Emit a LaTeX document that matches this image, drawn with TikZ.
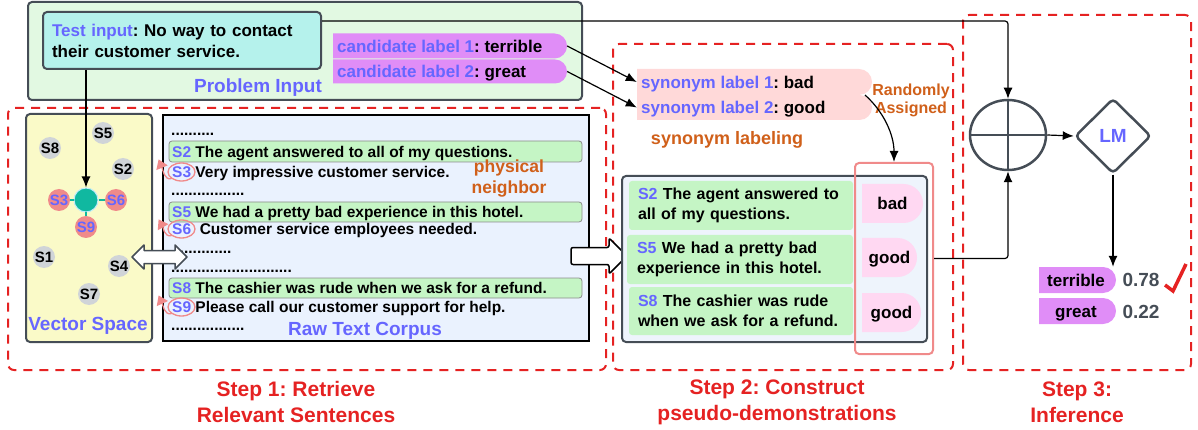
\documentclass[tikz,border=0pt]{standalone}
\usepackage{fontspec}
\setmainfont{Liberation Sans}
\usetikzlibrary{shapes.misc,shapes.arrows,shapes.geometric,arrows.meta,calc}
\definecolor{blueT}{HTML}{6666FF}
\definecolor{orT}{HTML}{D0601A}
\definecolor{redD}{HTML}{E52222}
\definecolor{grayD}{HTML}{454D56}
\definecolor{piFill}{HTML}{E2F9E2}
\definecolor{tiFill}{HTML}{B5F2EC}
\definecolor{vio}{HTML}{E08DF7}
\definecolor{synFill}{HTML}{FFD9D9}
\definecolor{grn}{HTML}{C5F5C5}
\definecolor{pkFill}{HTML}{FFD8F2}
\definecolor{salm}{HTML}{F08A8A}
\definecolor{vsFill}{HTML}{FAFAC8}
\definecolor{cpFill}{HTML}{EAF2FE}
\definecolor{dmFill}{HTML}{EEF4FC}
\definecolor{gcol}{HTML}{D0D4D8}
\definecolor{tealc}{HTML}{10B8A0}
\newcommand\rn[7]{\node[#2, minimum width={(#5-#3)*1pt}, minimum height={(#6-#4)*1pt}] (#1) at ({(#3+#5)/2},{(#4+#6)/2}) {#7};}
\frenchspacing
\begin{document}
\begin{tikzpicture}[x=1pt,y=-1pt,
  stepbox/.style={draw=redD, line width=2pt, dash pattern=on 9pt off 7pt, rounded corners=6pt, inner sep=0pt},
  box/.style={draw=grayD, line width=2pt, rounded corners=4pt, inner sep=0pt},
  pill/.style={rounded rectangle, rounded rectangle west arc=none, inner sep=0pt, draw=none},
  gbar/.style={fill=grn, draw=black!45, line width=0.8pt, rounded corners=3pt, inner sep=0pt},
  gtxt/.style={fill=grn, rounded corners=3pt, text width=206pt, align=left, inner sep=0pt, font=\bfseries\fontsize{16}{19.5}\selectfont},
  t17/.style={font=\bfseries\fontsize{17}{21}\selectfont, inner sep=0pt, text height=12.2pt, text depth=0pt},
  t18/.style={font=\bfseries\fontsize{18}{21}\selectfont, inner sep=0pt, text height=12.9pt, text depth=0pt},
  t19/.style={font=\bfseries\fontsize{19}{22}\selectfont, inner sep=0pt, text height=13.6pt, text depth=0pt},
  ct/.style={font=\bfseries\fontsize{15.5}{18}\selectfont, inner sep=0pt, anchor=west, text height=11.1pt, text depth=0pt},
  dots/.style={font=\bfseries\fontsize{15.5}{18}\selectfont, inner sep=0pt, anchor=base west},
  stl/.style={font=\bfseries\fontsize{21}{26}\selectfont, text=redD, align=center, inner sep=0pt},
  gcirc/.style={circle, fill=gcol, minimum size=22pt, inner sep=0pt, font=\bfseries\fontsize{15}{18}\selectfont},
  scirc/.style={circle, fill=salm, minimum size=22pt, inner sep=0pt, text=blueT, font=\bfseries\fontsize{15}{18}\selectfont},
  arr/.style={-{Latex[length=11pt,width=9pt]}, line width=1.2pt, draw=black},
  pkarr/.style={salm, line width=1.3pt, -{Triangle[length=9pt,width=12pt]}},
  ell/.style={ellipse, draw=salm, line width=1.3pt, minimum width=27pt, minimum height=18pt, inner sep=0pt},
  blockarrow/.style={fill=white, line width=1.5pt, line join=round}
]
\useasboundingbox (0,0) rectangle (1198,430);
% step frames
\rn{st1}{stepbox}{8}{108}{606}{370}{}
\rn{st2}{stepbox}{613}{44}{953}{370}{}
\rn{st3}{stepbox}{963}{15}{1191}{370}{}
\node[stl] (l1) at (296,402) {Step 1: Retrieve\\Relevant Sentences};
\node[stl] (l2) at (777,402) {Step 2: Construct\\pseudo-demonstrations};
\node[stl] (l3) at (1077,402) {Step 3:\\Inference};
% problem input
\rn{pib}{box, fill=piFill}{28}{2}{582}{100}{}
\rn{ti}{box, fill=tiFill, align=left, text width=260pt, font=\bfseries\fontsize{17}{21}\selectfont}{43}{12}{321}{69}{\textcolor{blueT}{Test input}: No way to contact\\their customer service.}
\node[t19, text=blueT] (pil) at (258,86) {Problem Input};
\node[pill, fill=vio, minimum width=234pt, minimum height=25pt] (cp1) at (450,46) {};
\node[pill, fill=vio, minimum width=234pt, minimum height=24pt] (cp2) at (450,71.5) {};
\node[t17, anchor=west] (cpt1) at (337,46) {\textcolor{blueT}{candidate label 1}: terrible};
\node[t17, anchor=west] (cpt2) at (337,71.5) {\textcolor{blueT}{candidate label 2}: great};
% vector space
\rn{vs}{box, fill=vsFill}{26}{114}{152}{342}{}
\node[t19, text=blueT] (vsl) at (88,324) {Vector Space};
\node[gcirc] (v5) at (103,133) {S5};
\node[gcirc] (v8) at (50,148) {S8};
\node[gcirc] (v2) at (123,169) {S2};
\node[gcirc] (v1) at (44,257) {S1};
\node[gcirc] (v4) at (119,266) {S4};
\node[gcirc] (v7) at (89,294) {S7};
\node[circle, fill=tealc, draw=cyan!25, line width=1pt, minimum size=24pt, inner sep=0pt] (ctr) at (86,200) {};
\node[scirc] (v3) at (59,200) {S3};
\node[scirc] (v6) at (116,200) {S6};
\node[scirc] (v9) at (86,227) {S9};
\draw[tealc, line width=1.5pt] (ctr) -- (v3) (ctr) -- (v6) (ctr) -- (v9);
\draw[arr] (ctr |- ti.south) -- (ctr.north);
% corpus
\rn{cb}{draw=black, line width=1.5pt, fill=cpFill, inner sep=0pt}{163}{115}{589}{341}{}
\rn{b2}{gbar}{169}{141}{582}{162}{}
\rn{b5}{gbar}{169}{202}{582}{222}{}
\rn{b8}{gbar}{169}{278}{582}{298}{}
\node[dots] (d1) at (171,136) {..........};
\node[ct] (c2) at (172,151.5) {\textcolor{blueT}{S2} The agent answered to all of my questions.};
\node[ct] (c3) at (172,172) {\textcolor{blueT}{S3} Very impressive customer service.};
\node[dots] (d2) at (171,195.5) {.................};
\node[ct] (c5) at (172,212) {\textcolor{blueT}{S5} We had a pretty bad experience in this hotel.};
\node[ct] (c6) at (172,229) {\textcolor{blueT}{S6}~ Customer service employees needed.};
\node[dots] (d3) at (171,253.5) {..............};
\node[dots] (d4) at (171,272.5) {............................};
\node[ct] (c8) at (172,288) {\textcolor{blueT}{S8} The cashier was rude when we ask for a refund.};
\node[ct] (c9) at (172,307) {\textcolor{blueT}{S9} Please call our customer support for help.};
\node[dots] (d5) at (171,330.5) {.................};
\node[t19, text=blueT] (rtc) at (365,329) {Raw Text Corpus};
\node[font=\bfseries\fontsize{17.5}{21}\selectfont, text=orT, align=center, inner sep=0pt] (pn) at (509,179) {physical\\neighbor};
\node[ell] (e3) at (181.5,172) {};
\node[ell] (e6) at (181.5,229) {};
\node[ell] (e9) at (181.5,307) {};
\draw[pkarr] (e3.south west) .. controls (164,180) and (163,170) .. ($(b2.south west)+(-10,-3)$);
\draw[pkarr] (e6.south west) .. controls (164,237) and (163,227) .. ($(b5.south west)+(-10,-3)$);
\draw[pkarr] (e9.south west) .. controls (164,315) and (163,305) .. ($(b8.south west)+(-10,-3)$);
% block arrows
\draw[blockarrow, draw=grayD] (132,257) -- (144,245) -- (144,250.5) -- (175,250.5) -- (175,245) -- (187,257) -- (175,269) -- (175,263.5) -- (144,263.5) -- (144,269) -- cycle;
\draw[blockarrow, draw=black, rounded corners=2pt] (571,247.5) -- (609,247.5) -- (609,238) -- (627,256) -- (609,274) -- (609,264.5) -- (571,264.5) -- cycle;
% synonym labels
\node[pill, fill=synFill, minimum width=235pt, minimum height=26pt] (sp1) at (754.5,82) {};
\node[pill, fill=synFill, minimum width=235pt, minimum height=25pt] (sp2) at (754.5,107.5) {};
\node[t17, anchor=west] (spt1) at (641,82) {\textcolor{blueT}{synonym label 1}: bad};
\node[t17, anchor=west] (spt2) at (641,107.5) {\textcolor{blueT}{synonym label 2}: good};
\draw[arr] (cp1.east) -- (sp1.west);
\draw[arr] (cp2.east) -- (sp2.west);
\node[font=\bfseries\fontsize{16}{18}\selectfont, text=orT, align=center, inner sep=0pt] (ra) at (911,100) {Randomly\\Assigned};
\node[t18, text=orT] (sl) at (727,138) {synonym labeling};
% demonstrations
\rn{dm}{box, fill=dmFill}{622}{176}{927}{342}{}
\rn{g1}{gtxt}{629}{181}{853}{230}{\textcolor{blueT}{S2} The agent answered to\\all of my questions.}
\rn{g2}{gtxt}{627}{235}{853}{284}{\textcolor{blueT}{S5} We had a pretty bad\\experience in this hotel.}
\rn{g3}{gtxt}{629}{287}{853}{335}{\textcolor{blueT}{S8} The cashier was rude\\when we ask for a refund.}
\node[pill, fill=pkFill, minimum width=61pt, minimum height=39pt] (pk1) at (892.5,203.5) {};
\node[pill, fill=pkFill, minimum width=55pt, minimum height=39pt] (pk2) at (889.5,257.5) {};
\node[pill, fill=pkFill, minimum width=59pt, minimum height=39pt] (pk3) at (891.5,312.5) {};
\node[t17] (pkt1) at (892.5,203.5) {bad};
\node[t17] (pkt2) at (889.5,257.5) {good};
\node[t17] (pkt3) at (891.5,312.5) {good};
\rn{sal}{draw=salm, line width=2pt, rounded corners=4pt, inner sep=0pt}{855}{163}{933}{354}{}
\coordinate (ra0) at (865,95);
\draw[arr] (ra0) .. controls (884,112) and (894,135) .. (sal.north);
% inference
\node[ellipse, draw=grayD, line width=2.5pt, minimum width=76pt, minimum height=70pt, inner sep=0pt] (cplus) at (1008,135) {};
\draw[grayD, line width=2.5pt] (cplus.north) -- (cplus.south) (cplus.west) -- (cplus.east);
\node[diamond, draw=grayD, line width=2.5pt, rounded corners=4pt, minimum width=76pt, minimum height=75pt, inner sep=0pt, font=\bfseries\fontsize{19}{22}\selectfont, text=blueT] (lm) at (1113,136) {LM};
\draw[arr, rounded corners=3pt] ($(ti.north east)+(0,10)$) -| (cplus.north);
\draw[arr, rounded corners=3pt] (sal.east) -| (cplus.south);
\draw[arr] (cplus.east) -- (lm.west);
\node[pill, fill=vio, minimum width=77pt, minimum height=26pt] (tp) at (1077.5,280) {};
\node[pill, fill=vio, minimum width=77pt, minimum height=26pt] (gp) at (1077.5,311) {};
\node[t17] (tpt) at (1076,280) {terrible};
\node[t17] (gpt) at (1076,311) {great};
\draw[arr] (lm.south) -- (lm.south |- tp.north);
\node[t19, text=grayD] (p1) at (1141,280) {0.78};
\node[t19, text=grayD] (p2) at (1141,312) {0.22};
\draw[redD, line width=3.5pt] (1165,285) -- (1173,291) -- (1186,264);
\end{tikzpicture}
\end{document}
